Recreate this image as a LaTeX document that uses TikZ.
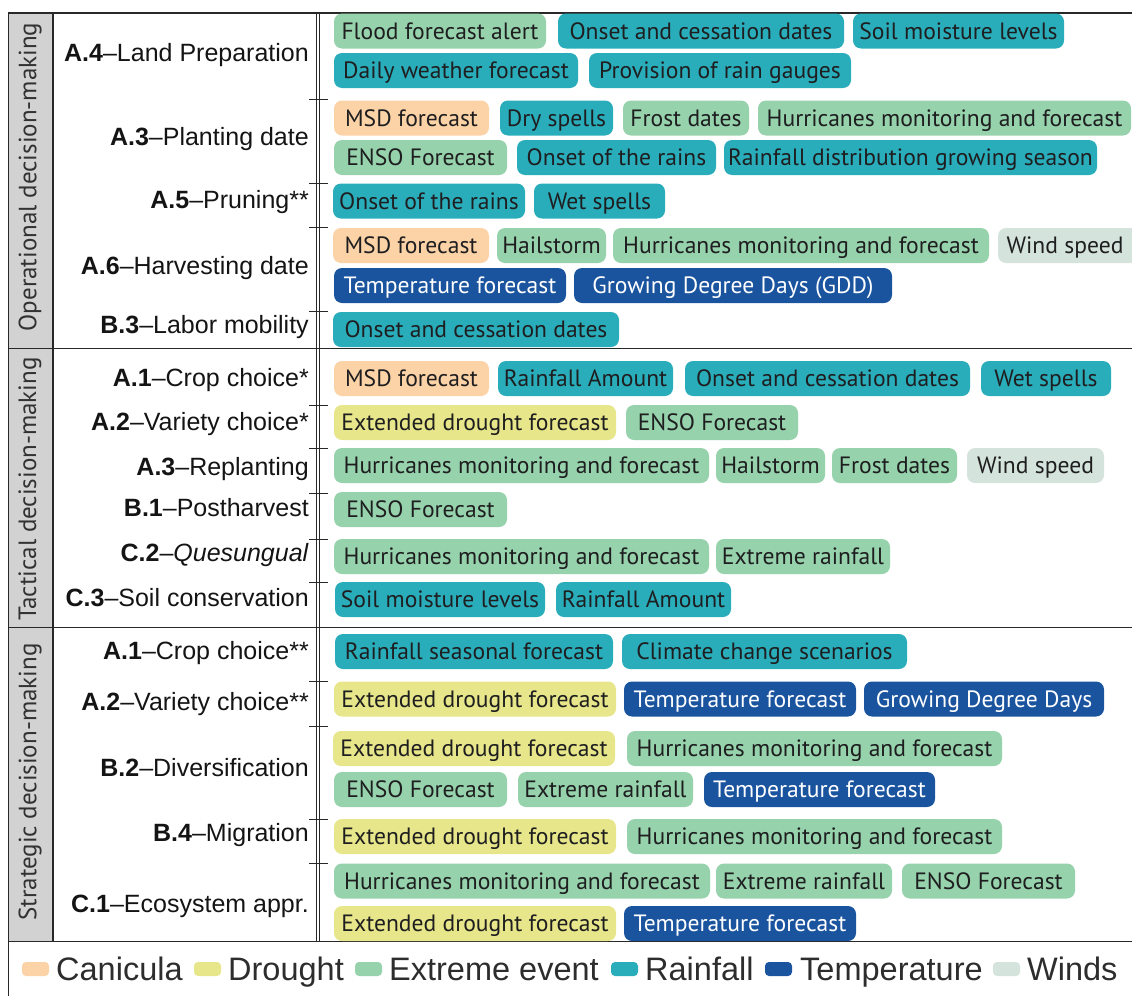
\documentclass[tikz,border=0pt]{standalone}
\usepackage{fontspec}
\setmainfont{Liberation Sans}
\newfontfamily\tagfont{PT Sans}
\definecolor{canc}{RGB}{252,211,166}
\definecolor{droc}{RGB}{231,230,138}
\definecolor{extc}{RGB}{150,210,171}
\definecolor{raic}{RGB}{42,173,186}
\definecolor{temc}{RGB}{26,84,158}
\definecolor{winc}{RGB}{212,227,219}
\definecolor{tagtext}{RGB}{30,30,32}
\definecolor{framec}{RGB}{40,40,40}
\definecolor{grpfill}{RGB}{210,210,210}
\definecolor{grpc}{RGB}{50,50,50}
\definecolor{labc}{RGB}{20,20,20}
\definecolor{legc}{RGB}{45,45,45}
\newcommand{\tg}[6]{\node[#2, minimum width={(#4)-(#3)}] (#1) at (#3,#5) {#6};}
\begin{document}
\begin{tikzpicture}[x=1pt,y=-1pt,
  frame/.style={line width=1.4pt, draw=framec},
  tickmark/.style={line width=1pt, draw=framec},
  tagbox/.style={rounded corners=8pt, minimum height=35pt, inner sep=0pt, outer sep=0pt, anchor=west,
    font=\tagfont\fontsize{23.6}{28}\selectfont, text=tagtext, text height=20pt, text depth=3.5pt},
  can/.style={tagbox, fill=canc},
  dro/.style={tagbox, fill=droc},
  ext/.style={tagbox, fill=extc},
  rai/.style={tagbox, fill=raic},
  tem/.style={tagbox, fill=temc, text=white},
  win/.style={tagbox, fill=winc},
  lab/.style={anchor=base east, font=\fontsize{25}{30}\selectfont, text=labc, inner sep=0pt},
  grp/.style={rotate=90, font=\tagfont\fontsize{25}{30}\selectfont, text=grpc, inner sep=0pt},
  sw/.style={rounded corners=4pt, minimum width=27pt, minimum height=14pt, inner sep=0pt, outer sep=0pt, anchor=west},
  leg/.style={anchor=base west, font=\fontsize{32.5}{36}\selectfont, text=legc, inner sep=0pt}
]
\useasboundingbox (0,0) rectangle (1132,996);
% grey column
\fill[grpfill] (8,13) rectangle (53,941);
% frame
\draw[frame] (8,13) -- (1132,13);
\draw[frame] (8,348.5) -- (1132,348.5);
\draw[frame] (8,627.5) -- (1132,627.5);
\draw[frame] (8,941.5) -- (1132,941.5);
\draw[frame] (8.5,13) -- (8.5,996);
\draw[frame] (53,13) -- (53,941.5);
\draw[line width=1.1pt, draw=framec] (316.7,13) -- (316.7,941.5);
\draw[line width=1.1pt, draw=framec] (319.6,13) -- (319.6,941.5);
% ticks
\foreach \yy in {99.5,183.3,227.7,311.7,405,448.3,493.3,539,582.3,681,726.7,819,863.3}
  \draw[tickmark] (309,\yy) -- (328,\yy);
% group labels
\node[grp] (gop) at (30,177) {Operational decision-making};
\node[grp] (gta) at (30,489) {Tactical decision-making};
\node[grp] (gst) at (30,782) {Strategic decision-making};
% decision labels
\node[lab] (lA4o) at (309,61) {\textbf{A.4}–Land Preparation};
\node[lab] (lA3o) at (309,145) {\textbf{A.3}–Planting date};
\node[lab] (lA5o) at (309,208) {\textbf{A.5}–Pruning**};
\node[lab] (lA6o) at (309,274) {\textbf{A.6}–Harvesting date};
\node[lab] (lB3o) at (309,333) {\textbf{B.3}–Labor mobility};
\node[lab] (lA1t) at (309,386.7) {\textbf{A.1}–Crop choice*};
\node[lab] (lA2t) at (309,430.7) {\textbf{A.2}–Variety choice*};
\node[lab] (lA3t) at (309,475) {\textbf{A.3}–Replanting};
\node[lab] (lB1t) at (309,516.7) {\textbf{B.1}–Postharvest};
\node[lab] (lC2t) at (309,561.7) {\textbf{C.2}–\textit{Quesungual}};
\node[lab] (lC3t) at (309,606.7) {\textbf{C.3}–Soil conservation};
\node[lab] (lA1s) at (309,659.3) {\textbf{A.1}–Crop choice**};
\node[lab] (lA2s) at (309,710.7) {\textbf{A.2}–Variety choice**};
\node[lab] (lB2s) at (309,776) {\textbf{B.2}–Diversification};
\node[lab] (lB4s) at (309,841.7) {\textbf{B.4}–Migration};
\node[lab] (lC1s) at (309,912.7) {\textbf{C.1}–Ecosystem appr.};
% ---------- Operational tags
\tg{o1a}{ext}{334}{546}{31}{Flood forecast alert}
\tg{o1b}{rai}{558}{844}{31}{Onset and cessation dates}
\tg{o1c}{rai}{853}{1064}{31}{Soil moisture levels}
\tg{o2a}{rai}{334}{578}{70.5}{Daily weather forecast}
\tg{o2b}{rai}{589}{851}{70.5}{Provision of rain gauges}
\tg{o3a}{can}{334}{489}{118}{MSD forecast}
\tg{o3b}{rai}{500}{613}{118}{Dry spells}
\tg{o3c}{ext}{623}{749}{118}{Frost dates}
\tg{o3d}{ext}{758}{1131}{118}{Hurricanes monitoring and forecast}
\tg{o4a}{ext}{334}{507}{157.5}{ENSO Forecast}
\tg{o4b}{rai}{517}{716}{157.5}{Onset of the rains}
\tg{o4c}{rai}{724}{1097}{157.5}{Rainfall distribution growing season}
\tg{o5a}{rai}{333}{525}{201}{Onset of the rains}
\tg{o5b}{rai}{534}{665}{201}{Wet spells}
\tg{o6a}{can}{333}{489}{245.5}{MSD forecast}
\tg{o6b}{ext}{497}{606}{245.5}{Hailstorm}
\tg{o6c}{ext}{613}{989}{245.5}{Hurricanes monitoring and forecast}
\tg{o6d}{win}{998}{1140}{245.5}{Wind speed\hspace*{8pt}}
\tg{o7a}{tem}{334}{566}{285.5}{Temperature forecast}
\tg{o7b}{tem}{574}{892}{285.5}{Growing Degree Days (GDD)}
\tg{o8a}{rai}{333}{619}{329.5}{Onset and cessation dates}
% ---------- Tactical tags
\tg{t1a}{can}{334}{489}{378.5}{MSD forecast}
\tg{t1b}{rai}{498}{673}{378.5}{Rainfall Amount}
\tg{t1c}{rai}{685}{970}{378.5}{Onset and cessation dates}
\tg{t1d}{rai}{981}{1111}{378.5}{Wet spells}
\tg{t2a}{dro}{334}{616}{422.5}{Extended drought forecast}
\tg{t2b}{ext}{626}{798}{422.5}{ENSO Forecast}
\tg{t3a}{ext}{334}{709}{465.5}{Hurricanes monitoring and forecast}
\tg{t3b}{ext}{716}{825}{465.5}{Hailstorm}
\tg{t3c}{ext}{832}{957}{465.5}{Frost dates}
\tg{t3d}{win}{967}{1104}{465.5}{Wind speed}
\tg{t4a}{ext}{334}{507}{509.5}{ENSO Forecast}
\tg{t5a}{ext}{334}{709}{556.5}{Hurricanes monitoring and forecast}
\tg{t5b}{ext}{716}{890}{556.5}{Extreme rainfall}
\tg{t6a}{rai}{335}{545}{599.5}{Soil moisture levels}
\tg{t6b}{rai}{556}{731}{599.5}{Rainfall Amount}
% ---------- Strategic tags
\tg{s1a}{rai}{335}{613}{651.5}{Rainfall seasonal forecast}
\tg{s1b}{rai}{622}{907}{651.5}{Climate change scenarios}
\tg{s2a}{dro}{334}{616}{699}{Extended drought forecast}
\tg{s2b}{tem}{624}{856}{699}{Temperature forecast}
\tg{s2c}{tem}{864}{1104}{699}{Growing Degree Days}
\tg{s3a}{dro}{333}{615}{748.5}{Extended drought forecast}
\tg{s3b}{ext}{627}{1002}{748.5}{Hurricanes monitoring and forecast}
\tg{s4a}{ext}{334}{507}{789.5}{ENSO Forecast}
\tg{s4b}{ext}{518}{693}{789.5}{Extreme rainfall}
\tg{s4c}{tem}{704}{935}{789.5}{Temperature forecast}
\tg{s5a}{dro}{334}{616}{836.5}{Extended drought forecast}
\tg{s5b}{ext}{627}{1002}{836.5}{Hurricanes monitoring and forecast}
\tg{s6a}{ext}{334}{710}{881}{Hurricanes monitoring and forecast}
\tg{s6b}{ext}{716}{892}{881}{Extreme rainfall}
\tg{s6c}{ext}{902}{1075}{881}{ENSO Forecast}
\tg{s7a}{dro}{334}{616}{923.5}{Extended drought forecast}
\tg{s7b}{tem}{624}{856}{923.5}{Temperature forecast}
% ---------- Legend
\node[sw, fill=canc] (kcan) at (22,969) {};
\node[leg] (lcan) at (56,980) {Canicula};
\node[sw, fill=droc] (kdro) at (194,969) {};
\node[leg] (ldro) at (228,980) {Drought};
\node[sw, fill=extc] (kext) at (355,969) {};
\node[leg] (lext) at (389,980) {Extreme event};
\node[sw, fill=raic] (krai) at (611,969) {};
\node[leg] (lrai) at (645,980) {Rainfall};
\node[sw, fill=temc] (ktem) at (765,969) {};
\node[leg] (ltem) at (800,980) {Temperature};
\node[sw, fill=winc] (kwin) at (993,969) {};
\node[leg] (lwin) at (1027,980) {Winds};
\end{tikzpicture}
\end{document}
